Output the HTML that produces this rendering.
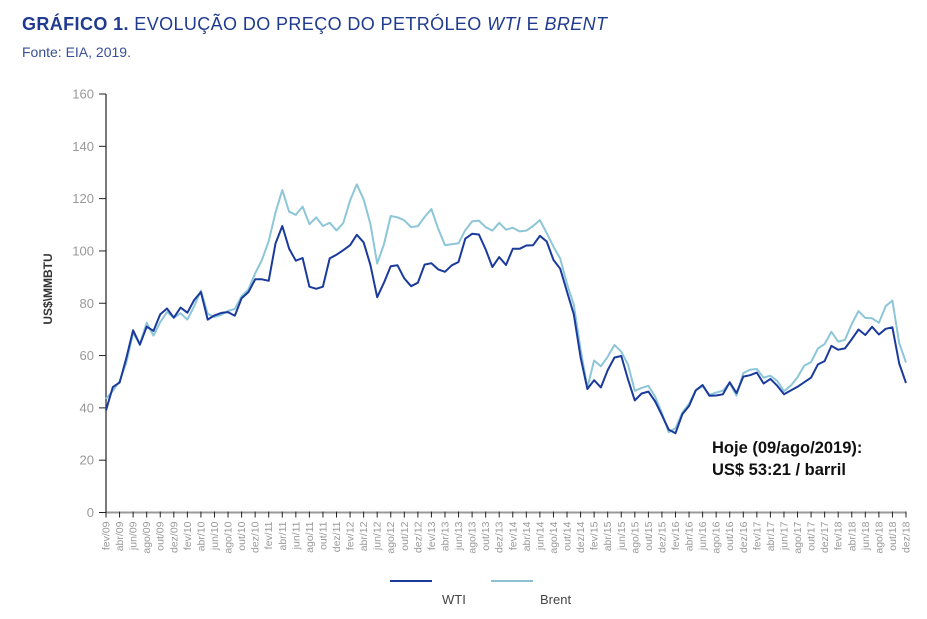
<!DOCTYPE html>
<html><head><meta charset="utf-8"><style>
body{margin:0;background:#fff;width:927px;height:614px;overflow:hidden;font-family:"Liberation Sans",sans-serif}
</style></head><body>
<svg id="chart" width="927" height="614" xmlns="http://www.w3.org/2000/svg" font-family="Liberation Sans, sans-serif">
<text x="22" y="30" font-size="18" fill="#1f3a8f" textLength="585" lengthAdjust="spacing"><tspan font-weight="bold">GRÁFICO 1.</tspan> EVOLUÇÃO DO PREÇO DO PETRÓLEO <tspan font-style="italic">WTI</tspan> E <tspan font-style="italic">BRENT</tspan></text>
<text x="22" y="57" font-size="14" fill="#3a4f9a">Fonte: EIA, 2019.</text>
<text transform="translate(52,289) rotate(-90)" text-anchor="middle" font-size="12" font-weight="bold" fill="#333">US$\MMBTU</text>
<g id="yaxis"></g>
<g id="xaxis"></g>
<g id="series"></g>
<text x="712" y="453" font-size="16.5" font-weight="bold" fill="#111">Hoje (09/ago/2019):</text>
<text x="712" y="475" font-size="16.5" font-weight="bold" fill="#111">US$ 53:21 / barril</text>
<g>
<line x1="390" y1="581" x2="432" y2="581" stroke="#1a3a9c" stroke-width="2"/>
<text x="442" y="604" font-size="13" fill="#444">WTI</text>
<line x1="491" y1="581" x2="533" y2="581" stroke="#8cc0d4" stroke-width="2"/>
<text x="540" y="604" font-size="13" fill="#444">Brent</text>
</g>
</svg>
<script>
const yTicks=[0,20,40,60,80,100,120,140,160];
const monthNames=["jan","fev","mar","abr","mai","jun","jul","ago","set","out","nov","dez"];
const wti=[39.09,47.94,49.65,59.03,69.64,64.15,71.05,69.41,75.72,77.99,74.47,
78.33,76.39,81.20,84.29,73.74,75.34,76.32,76.60,75.24,81.89,84.25,89.15,
89.17,88.58,102.86,109.53,100.90,96.26,97.30,86.33,85.52,86.32,97.16,98.56,
100.27,102.20,106.16,103.32,94.66,82.30,87.90,94.13,94.51,89.49,86.53,87.86,
94.76,95.31,92.94,92.02,94.51,95.77,104.67,106.57,106.29,100.54,93.86,97.63,
94.62,100.82,100.80,102.07,102.18,105.79,103.59,96.54,93.21,84.40,75.79,59.29,
47.22,50.58,47.82,54.45,59.27,59.82,50.90,42.87,45.48,46.22,42.44,37.19,
31.68,30.32,37.55,40.75,46.71,48.76,44.65,44.72,45.18,49.78,45.66,51.97,
52.50,53.47,49.33,51.06,48.48,45.18,46.63,48.04,49.82,51.58,56.64,57.88,
63.70,62.23,62.73,66.25,69.98,67.87,70.98,68.06,70.23,70.75,56.96,49.52];
const brent=[43.44,46.54,50.18,57.30,68.61,64.44,72.51,67.65,72.77,76.66,74.46,
76.17,73.75,78.83,84.82,75.95,74.76,75.58,77.04,77.84,82.67,85.28,91.45,
96.52,103.72,114.64,123.26,114.99,113.83,116.97,110.22,112.83,109.55,110.77,107.87,
110.69,119.33,125.45,119.75,110.34,95.16,102.62,113.36,112.86,111.71,109.06,109.49,
112.96,116.05,108.47,102.25,102.56,102.92,107.93,111.28,111.60,109.08,107.79,110.76,
108.12,108.90,107.48,107.76,109.54,111.80,106.77,101.61,97.09,87.43,79.44,62.34,
47.76,58.10,55.89,59.52,64.08,61.48,56.56,46.52,47.62,48.43,44.27,38.01,
30.70,32.18,38.21,41.58,46.74,48.25,44.95,45.84,46.57,49.52,44.73,53.31,
54.58,54.87,51.59,52.31,50.33,46.37,48.48,51.70,56.15,57.51,62.71,64.37,
69.08,65.32,66.02,72.11,76.98,74.41,74.25,72.53,78.89,81.03,64.75,57.36];
const NS="http://www.w3.org/2000/svg";
const X0=106,X1=906,Y0=512.5,Y1=94,YMAX=160;
const n=wti.length;
function xs(i){return X0+(X1-X0)*i/(n-1);}
function ys(v){return Y0-(Y0-Y1)*v/YMAX;}
function mk(tag,attrs,parent){const e=document.createElementNS(NS,tag);for(const k in attrs)e.setAttribute(k,attrs[k]);parent.appendChild(e);return e;}
const ya=document.getElementById('yaxis');
let ax=mk('line',{x1:X0,y1:Y1,x2:X0,y2:Y0,stroke:'#222','stroke-width':1.2},ya);


yTicks.forEach(v=>{
 const t=mk('line',{x1:X0-7,y1:ys(v),x2:X0,y2:ys(v),stroke:'#222','stroke-width':1},ya);
 
 
 const l=mk('text',{x:X0-12,y:ys(v)+4.5,'text-anchor':'end','font-size':13,fill:'#999'},ya);
 l.textContent=v;
 
 
});
const xa=document.getElementById('xaxis');
let bx=mk('line',{x1:X0,y1:Y0,x2:X1,y2:Y0,stroke:'#999','stroke-width':2},xa);


for(let i=0;i<n;i+=2){
 const m=(1+i)%12, yr=9+Math.floor((1+i)/12);
 const lab=monthNames[m]+'/'+String(yr).padStart(2,'0');
 const x=xs(i);
 const t=mk('line',{x1:x,y1:Y0-1,x2:x,y2:Y0+5,stroke:'#222','stroke-width':1},xa);
 
 
 const l=mk('text',{transform:`translate(${x+3.5},${Y0+9}) rotate(-90)`,'text-anchor':'end','font-size':10.5,fill:'#999'},xa);
 l.textContent=lab;
 
 
}
const sg=document.getElementById('series');
function line(arr,color,name){
 const d=arr.map((v,i)=>(i?'L':'M')+xs(i).toFixed(1)+','+ys(v).toFixed(1)).join('');
 const p=mk('path',{d:d,fill:'none',stroke:color,'stroke-width':2,'stroke-linejoin':'round'},sg);
 
 
}
line(brent,'#8cc6d8','brent-line');
line(wti,'#1a3a9c','wti-line');
</script>
</body></html>
